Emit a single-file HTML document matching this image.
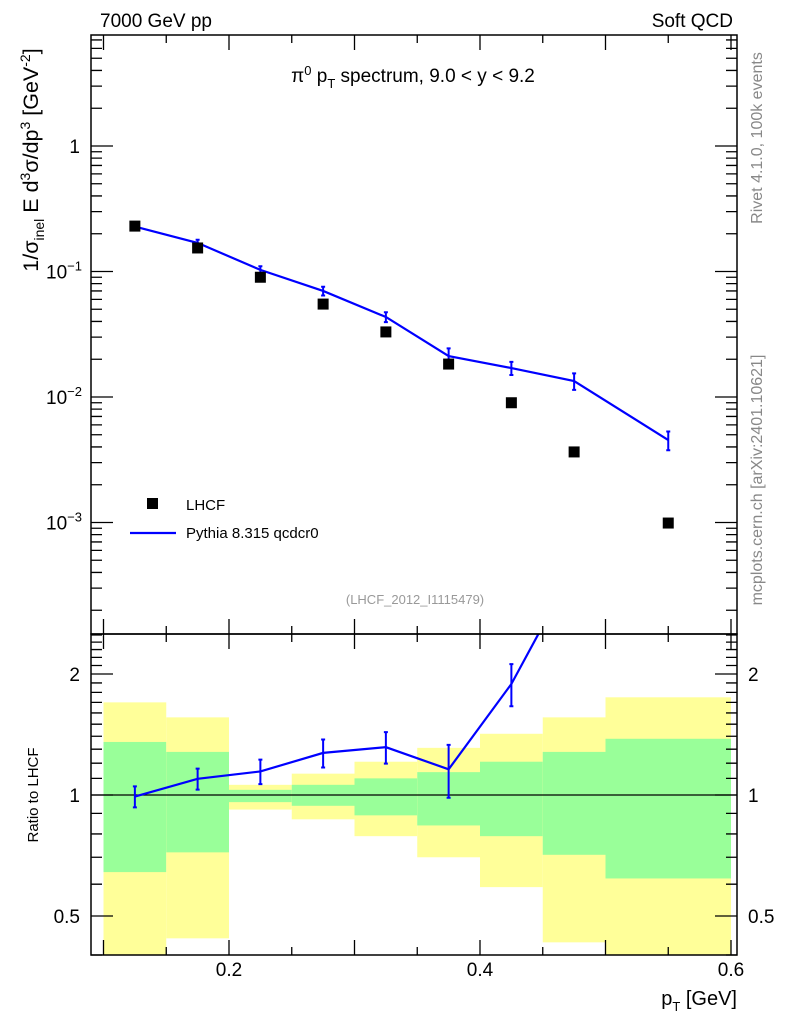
<!DOCTYPE html>
<html><head><meta charset="utf-8"><style>
body{margin:0;background:#fff;}
svg{display:block;font-family:"Liberation Sans",sans-serif;}
</style></head><body>
<svg id="c" width="786" height="1024" viewBox="0 0 786 1024">
<g id="bands"></g>
<g id="marks"></g>
<g id="axes"></g>
<text x="100" y="27" font-size="19">7000 GeV pp</text>
<text x="733" y="27" font-size="19" text-anchor="end">Soft QCD</text>
<text x="413" y="82" font-size="19" text-anchor="middle">π<tspan dy="-7" font-size="13">0</tspan><tspan dy="7"> p</tspan><tspan dy="6" font-size="13">T</tspan><tspan dy="-6"> spectrum, 9.0 &lt; y &lt; 9.2</tspan></text>
<text x="415" y="604" font-size="13" fill="#999" text-anchor="middle">(LHCF_2012_I1115479)</text>
<text transform="translate(38,160) rotate(-90)" font-size="21.5" text-anchor="middle">1/σ<tspan dy="6" font-size="14">inel</tspan><tspan dy="-6"> E d</tspan><tspan dy="-8" font-size="14">3</tspan><tspan dy="8">σ/dp</tspan><tspan dy="-8" font-size="14">3</tspan><tspan dy="8"> [GeV</tspan><tspan dy="-8" font-size="14">-2</tspan><tspan dy="8">]</tspan></text>
<text transform="translate(38,795) rotate(-90)" font-size="15" text-anchor="middle">Ratio to LHCF</text>
<text x="737" y="1005" font-size="20" text-anchor="end">p<tspan dy="6" font-size="13">T</tspan><tspan dy="-6"> [GeV]</tspan></text>
<text transform="translate(762,138) rotate(-90)" font-size="16" fill="#888" text-anchor="middle">Rivet 4.1.0,  100k events</text>
<text transform="translate(762,480) rotate(-90)" font-size="16" fill="#888" text-anchor="middle">mcplots.cern.ch [arXiv:2401.10621]</text>
<rect x="147" y="498" width="11" height="11" fill="#000"/>
<text x="186" y="510" font-size="15">LHCF</text>
<line x1="130" y1="533" x2="176" y2="533" stroke="#00f" stroke-width="2.2"/>
<text x="186" y="538" font-size="15">Pythia 8.315 qcdcr0</text>
</svg>
<script>
const binLo=[0.1,0.15,0.2,0.25,0.3,0.35,0.4,0.45,0.5];
const binHi=[0.15,0.2,0.25,0.3,0.35,0.4,0.45,0.5,0.6];
const xCenters=[0.125,0.175,0.225,0.275,0.325,0.375,0.425,0.475,0.55];
const dataVals=[0.23,0.154,0.090,0.055,0.033,0.0183,0.0090,0.00365,0.00099];
const mcVals=[0.228,0.169,0.103,0.070,0.0434,0.0212,0.0170,0.0134,0.00454];
const mcRelErr=[0.06,0.06,0.07,0.08,0.09,0.15,0.12,0.15,0.17];
const statUp=[1.355,1.28,1.03,1.06,1.10,1.14,1.21,1.28,1.38];
const statLo=[0.643,0.72,0.96,0.94,0.89,0.84,0.79,0.71,0.62];
const totUp=[1.70,1.56,1.06,1.13,1.21,1.31,1.42,1.56,1.75];
const totLo=[0.35,0.44,0.92,0.87,0.79,0.70,0.59,0.43,0.35];
const xTickLabels=["0.2","0.4","0.6"];
const xTickVals=[0.2,0.4,0.6];

const NS="http://www.w3.org/2000/svg";
const L=91,R=737,T=35,M=634,B=955;
const X=v=>229+(v-0.2)*1255;
const Y=v=>146-Math.log10(v)*125.5;
const RY=v=>795-Math.log10(v)*402;
const clampR=y=>Math.max(M,Math.min(B,y));
function mk(tag,at,parent){const e=document.createElementNS(NS,tag);for(const k in at)e.setAttribute(k,at[k]);parent.appendChild(e);return e;}
const bands=document.getElementById('bands'),marks=document.getElementById('marks'),axes=document.getElementById('axes');

for(let i=0;i<binLo.length;i++){
  let y1=clampR(RY(totUp[i])),y2=clampR(RY(totLo[i]));
  let r=mk('rect',{x:X(binLo[i]),y:y1,width:X(binHi[i])-X(binLo[i]),height:y2-y1,fill:'#ffff99'},bands);
  
  
  y1=clampR(RY(statUp[i]));y2=clampR(RY(statLo[i]));
  r=mk('rect',{x:X(binLo[i]),y:y1,width:X(binHi[i])-X(binLo[i]),height:y2-y1,fill:'#99ff99'},bands);
  
  
}
let ln=mk('line',{x1:L,x2:R,y1:RY(1),y2:RY(1),stroke:'#000','stroke-width':1.2},bands);



let pts=xCenters.map((x,i)=>X(x)+','+Y(mcVals[i])).join(' ');
let pl=mk('polyline',{points:pts,fill:'none',stroke:'#00f','stroke-width':2.2},marks);


xCenters.forEach((x,i)=>{
  const cx=X(x),a=Y(mcVals[i]*(1+mcRelErr[i])),b=Y(mcVals[i]*(1-mcRelErr[i]));
  const g=mk('path',{d:`M${cx},${a}V${b}M${cx-2},${a}h4M${cx-2},${b}h4`,stroke:'#00f','stroke-width':2,fill:'none'},marks);
  
  
  const s=mk('rect',{x:cx-5.5,y:Y(dataVals[i])-5.5,width:11,height:11,fill:'#000'},marks);
  
  
});
const cp=mk('clipPath',{id:'rc'},marks);mk('rect',{x:L,y:M,width:R-L,height:B-M},cp);
const rg=mk('g',{'clip-path':'url(#rc)'},marks);
const ratios=mcVals.map((v,i)=>v/dataVals[i]);
pl=mk('polyline',{points:xCenters.map((x,i)=>X(x)+','+RY(ratios[i])).join(' '),fill:'none',stroke:'#00f','stroke-width':2.2},rg);


xCenters.forEach((x,i)=>{
  const cx=X(x),a=RY(ratios[i]*(1+mcRelErr[i])),b=RY(ratios[i]*(1-mcRelErr[i]));
  const g=mk('path',{d:`M${cx},${a}V${b}M${cx-2},${a}h4M${cx-2},${b}h4`,stroke:'#00f','stroke-width':2,fill:'none'},rg);
  
  
});

let f=mk('rect',{x:L,y:T,width:R-L,height:M-T,fill:'none',stroke:'#000','stroke-width':1.5},axes);


f=mk('rect',{x:L,y:M,width:R-L,height:B-M,fill:'none',stroke:'#000','stroke-width':1.5},axes);


let d='';
for(let k=2;k<=12;k++){const v=k*0.05,x=X(v),maj=k%2==0,l=maj?15:8;
  d+=`M${x},${T}v${l}M${x},${M}v${-l}M${x},${M}v${l}M${x},${B}v${-l}`;}
for(let e=-4;e<=0;e++)for(let m=1;m<10;m++){const v=m*Math.pow(10,e),y=Y(v);if(y<T||y>M)continue;const l=m==1?22:11;
  d+=`M${L},${y}h${l}M${R},${y}h${-l}`;}
for(let k=4;k<=25;k++){const v=k/10,y=RY(v);if(y<M||y>B)continue;const l=(k==5||k==10||k==20)?22:11;
  d+=`M${L},${y}h${l}M${R},${y}h${-l}`;}
const tp=mk('path',{d:d,stroke:'#000','stroke-width':1.3,fill:'none'},axes);


xTickVals.forEach((v,i)=>{const t=mk('text',{x:X(v),y:976,'font-size':19,'text-anchor':'middle'},axes);t.textContent=xTickLabels[i];
  
  });
const t1=mk('text',{x:80,y:Y(1)+7,'font-size':19,'text-anchor':'end'},axes);t1.textContent='1';


[-1,-2,-3].forEach(e=>{const t=mk('text',{x:82,y:Y(Math.pow(10,e))+7,'font-size':19,'text-anchor':'end'},axes);
  t.innerHTML='10<tspan dy="-8" font-size="13">−'+(-e)+'</tspan>';
  
  });
[[2,'2'],[1,'1'],[0.5,'0.5']].forEach(([v,s])=>{
  let t=mk('text',{x:80,y:RY(v)+7,'font-size':19,'text-anchor':'end'},axes);t.textContent=s;
  
  
  t=mk('text',{x:748,y:RY(v)+7,'font-size':19},axes);t.textContent=s;
  
  });
</script>
</body></html>
